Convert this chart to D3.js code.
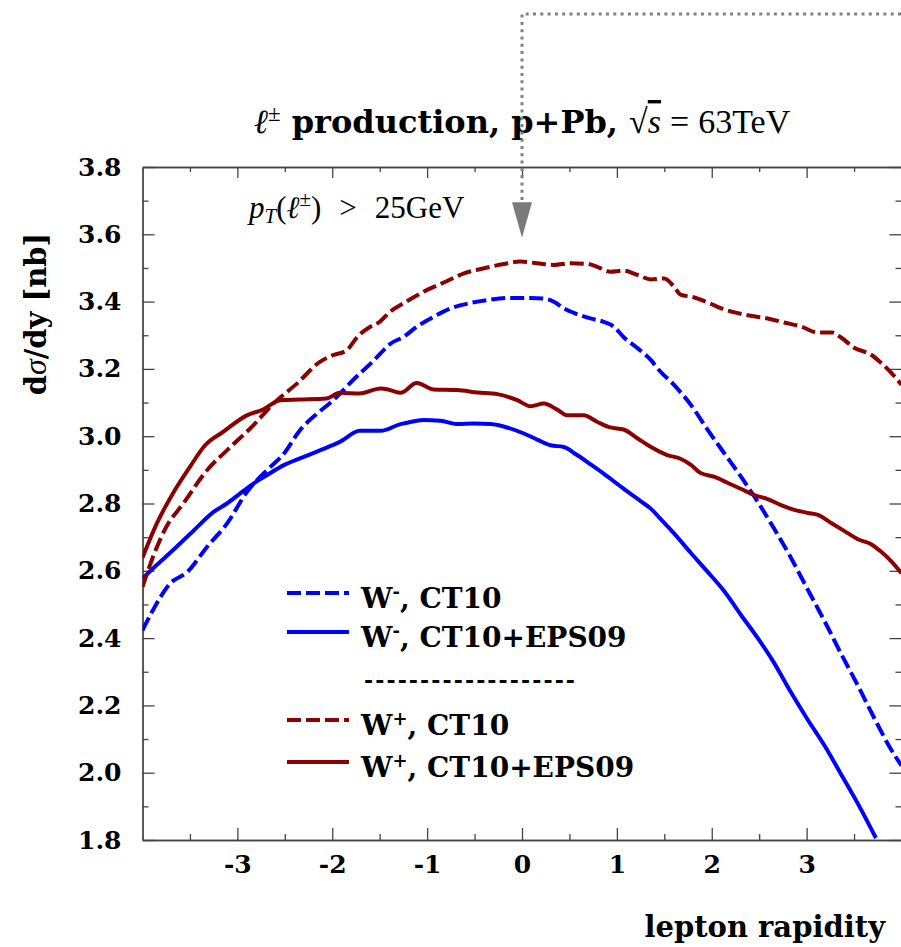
<!DOCTYPE html>
<html>
<head>
<meta charset="utf-8">
<script src="https://cdn.jsdelivr.net/npm/d3@7"></script>
<style>
body { margin: 0; background: #fff; }
svg { display: block; }
</style>
</head>
<body>
<svg id="chart" width="901" height="947"></svg>
<script>
// W- , CT10 (dashed blue)
const rapWmCT10 = [-4.0,-3.89,-3.71,-3.53,-3.32,-3.11,-2.90,-2.69,-2.51,-2.34,-2.16,-1.99,-1.78,-1.56,-1.45,-1.39,-1.25,-1.11,-0.93,-0.75,-0.54,-0.33,-0.12,0.09,0.23,0.34,0.44,0.58,0.72,0.86,0.97,1.07,1.22,1.36,1.43,1.60,1.78,1.95,2.13,2.31,2.48,2.66,2.83,3.01,3.19,3.36,3.54,3.71,3.89,4.0];
const sigWmCT10 = [2.423,2.483,2.562,2.596,2.671,2.740,2.834,2.899,2.948,3.018,3.067,3.107,3.167,3.226,3.258,3.274,3.295,3.325,3.355,3.380,3.396,3.406,3.411,3.411,3.409,3.399,3.380,3.363,3.350,3.340,3.325,3.295,3.261,3.226,3.201,3.153,3.093,3.022,2.950,2.879,2.807,2.724,2.641,2.545,2.450,2.355,2.259,2.164,2.069,2.021];
// W- , CT10+EPS09 (solid blue)
const rapWmEPS = [-4.0,-3.89,-3.68,-3.46,-3.25,-3.11,-2.97,-2.83,-2.69,-2.51,-2.34,-2.13,-1.92,-1.71,-1.49,-1.28,-1.21,-1.04,-0.86,-0.68,-0.51,-0.33,-0.16,0.02,0.16,0.30,0.44,0.58,0.72,0.86,1.0,1.07,1.25,1.36,1.46,1.60,1.78,1.95,2.13,2.31,2.48,2.66,2.83,3.01,3.19,3.36,3.54,3.73];
const sigWmEPS = [2.577,2.607,2.661,2.720,2.775,2.800,2.830,2.859,2.884,2.914,2.934,2.958,2.983,3.016,3.016,3.036,3.040,3.048,3.046,3.036,3.038,3.036,3.026,3.008,2.990,2.973,2.968,2.944,2.917,2.889,2.859,2.844,2.807,2.784,2.754,2.712,2.653,2.599,2.540,2.468,2.402,2.325,2.241,2.158,2.080,1.997,1.908,1.806];
// W+ , CT10 (dashed dark red)
const rapWpCT10 = [-4.0,-3.89,-3.75,-3.57,-3.32,-3.11,-2.83,-2.62,-2.37,-2.13,-2.0,-1.85,-1.72,-1.6,-1.5,-1.39,-1.25,-1.04,-0.83,-0.61,-0.40,-0.19,-0.02,0.16,0.34,0.51,0.69,0.83,0.93,1.07,1.22,1.36,1.50,1.60,1.67,1.81,1.96,2.10,2.24,2.41,2.59,2.76,2.94,3.12,3.27,3.36,3.50,3.68,3.78,3.89,4.0];
const sigWpCT10 = [2.552,2.641,2.730,2.800,2.899,2.958,3.033,3.097,3.157,3.221,3.240,3.255,3.300,3.325,3.340,3.370,3.395,3.429,3.456,3.484,3.499,3.512,3.519,3.514,3.509,3.514,3.512,3.499,3.489,3.492,3.479,3.466,3.469,3.445,3.421,3.413,3.397,3.380,3.368,3.358,3.350,3.338,3.326,3.308,3.308,3.294,3.263,3.242,3.219,3.189,3.153];
// W+ , CT10+EPS09 (solid dark red)
const rapWpEPS = [-4.0,-3.85,-3.68,-3.50,-3.34,-3.15,-2.90,-2.73,-2.55,-2.34,-2.06,-1.92,-1.71,-1.49,-1.39,-1.28,-1.11,-0.93,-0.68,-0.47,-0.26,-0.05,0.09,0.23,0.37,0.48,0.65,0.79,0.93,1.07,1.22,1.36,1.53,1.67,1.78,1.88,2.03,2.17,2.31,2.45,2.59,2.73,2.87,3.01,3.12,3.26,3.40,3.54,3.68,3.78,3.89,4.0];
const sigWpEPS = [2.639,2.740,2.830,2.909,2.973,3.013,3.062,3.079,3.107,3.109,3.112,3.129,3.127,3.142,3.137,3.129,3.158,3.139,3.137,3.130,3.125,3.107,3.089,3.097,3.079,3.062,3.062,3.043,3.026,3.020,2.993,2.968,2.944,2.933,2.915,2.891,2.879,2.861,2.843,2.825,2.813,2.795,2.781,2.772,2.766,2.742,2.718,2.694,2.679,2.658,2.629,2.593];

const xMajor = [-3, -2, -1, 0, 1, 2, 3];
const xMinor = [-3.5, -2.5, -1.5, -0.5, 0.5, 1.5, 2.5, 3.5];
const yMajor = [1.8, 2.0, 2.2, 2.4, 2.6, 2.8, 3.0, 3.2, 3.4, 3.6, 3.8];
const yMinor = [1.9, 2.1, 2.3, 2.5, 2.7, 2.9, 3.1, 3.3, 3.5, 3.7];

const BLUE = "#0000ff", RED = "#8b0000";
const series = [
	{ key: "wm-ct10", boson: "W", charge: "-", label: ", CT10", rap: rapWmCT10, sig: sigWmCT10, color: BLUE, dash: "14,5" },
	{ key: "wm-eps", boson: "W", charge: "-", label: ", CT10+EPS09", rap: rapWmEPS, sig: sigWmEPS, color: BLUE, dash: null },
	{ key: "wp-ct10", boson: "W", charge: "+", label: ", CT10", rap: rapWpCT10, sig: sigWpCT10, color: RED, dash: "14,5" },
	{ key: "wp-eps", boson: "W", charge: "+", label: ", CT10+EPS09", rap: rapWpEPS, sig: sigWpEPS, color: RED, dash: null }
];

const BOLD = "'DejaVu Serif', serif";
const ROMAN = "'Liberation Serif', 'Times New Roman', serif";

const svg = d3.select("#chart");
const plotL = 142.5, plotR = 901.5, plotT = 167, plotB = 840;

const x = d3.scaleLinear().domain([-4, 4]).range([plotL, plotR]);
const y = d3.scaleLinear().domain([1.8, 3.8]).range([plotB, plotT]);

svg.append("defs").append("clipPath").attr("id", "plotclip")
	.append("rect").attr("x", plotL).attr("y", plotT)
	.attr("width", plotR - plotL).attr("height", plotB - plotT);

// axes: ticks point into the frame
function styleAxis(g) {
	g.select(".domain").attr("stroke", "#444").attr("stroke-width", 1.3);
	g.selectAll(".tick line").attr("stroke", "#444").attr("stroke-width", 1.3);
	g.selectAll(".tick text")
		.attr("font-family", BOLD).attr("font-weight", "bold")
		.attr("font-size", 25).attr("fill", "#000");
}

svg.append("g").attr("transform", `translate(0,${plotB})`)
	.call(d3.axisBottom(x).tickValues(xMajor).tickSize(-12).tickSizeOuter(0).tickPadding(15).tickFormat(d => String(d)))
	.call(styleAxis);
svg.append("g").attr("transform", `translate(0,${plotB})`)
	.call(d3.axisBottom(x).tickValues(xMinor).tickSize(-6).tickSizeOuter(0).tickFormat(""))
	.call(styleAxis);
svg.append("g").attr("transform", `translate(0,${plotT})`)
	.call(d3.axisTop(x).tickValues(xMajor).tickSize(-11).tickSizeOuter(0).tickFormat(""))
	.call(styleAxis);
svg.append("g").attr("transform", `translate(0,${plotT})`)
	.call(d3.axisTop(x).tickValues(xMinor).tickSize(-5).tickSizeOuter(0).tickFormat(""))
	.call(styleAxis);

svg.append("g").attr("transform", `translate(${plotL},0)`)
	.call(d3.axisLeft(y).tickValues(yMajor).tickSize(-12).tickSizeOuter(0).tickPadding(21).tickFormat(d3.format(".1f")))
	.call(styleAxis);
svg.append("g").attr("transform", `translate(${plotL},0)`)
	.call(d3.axisLeft(y).tickValues(yMinor).tickSize(-6).tickSizeOuter(0).tickFormat(""))
	.call(styleAxis);
svg.append("g").attr("transform", `translate(${plotR},0)`)
	.call(d3.axisRight(y).tickValues(yMajor).tickSize(-12).tickSizeOuter(0).tickFormat(""))
	.call(styleAxis);
svg.append("g").attr("transform", `translate(${plotR},0)`)
	.call(d3.axisRight(y).tickValues(yMinor).tickSize(-6).tickSizeOuter(0).tickFormat(""))
	.call(styleAxis);

// curves
const line = d3.line()
	.x(d => x(d[0]))
	.y(d => y(d[1]))
	.curve(d3.curveMonotoneX);

svg.append("g").attr("clip-path", "url(#plotclip)")
	.selectAll("path")
	.data(series)
	.enter()
	.append("path")
	.attr("class", d => d.key)
	.attr("d", d => line(d3.zip(d.rap, d.sig)))
	.attr("fill", "none")
	.attr("stroke", d => d.color)
	.attr("stroke-width", 4)
	.attr("stroke-dasharray", d => d.dash);

// legend
const legendRows = [598, 637, 725, 767];
const legend = svg.append("g");
series.forEach((s, i) => {
	const ly = legendRows[i];
	legend.append("line")
		.attr("x1", 287).attr("x2", 349)
		.attr("y1", ly - 5).attr("y2", ly - 5)
		.attr("stroke", s.color).attr("stroke-width", 4)
		.attr("stroke-dasharray", s.dash);
	const t = legend.append("text")
		.attr("x", 361).attr("y", ly + 10)
		.attr("font-family", BOLD).attr("font-weight", "bold")
		.attr("font-size", 28);
	t.append("tspan").text(s.boson);
	t.append("tspan").attr("baseline-shift", "super").attr("font-size", 18).text(s.charge);
	t.append("tspan").text(s.label);
});
legend.append("text")
	.attr("x", 364).attr("y", 688)
	.attr("font-family", BOLD).attr("font-weight", "bold").attr("font-size", 22)
	.attr("textLength", 211).attr("lengthAdjust", "spacing")
	.text("-------------------");

// title
const title = svg.append("text")
	.attr("x", x(0)).attr("y", 133)
	.attr("text-anchor", "middle")
	.attr("font-family", ROMAN).attr("font-size", 34);
title.append("tspan").attr("font-style", "italic").text("\u2113");
title.append("tspan").attr("baseline-shift", "super").attr("font-size", 23).text("\u00b1");
title.append("tspan").attr("font-family", BOLD).attr("font-weight", "bold").attr("font-size", 32).text(" production, p+Pb, ");
title.append("tspan").text("\u221a");
title.append("tspan").attr("font-style", "italic").attr("text-decoration", "overline").text("s");
title.append("tspan").attr("dx", 9).text("=");
title.append("tspan").attr("dx", 9).text("63TeV");

// annotation
const note = svg.append("text")
	.attr("x", 249).attr("y", 218)
	.attr("font-family", ROMAN).attr("font-size", 31);
note.append("tspan").attr("font-style", "italic").text("p");
note.append("tspan").attr("font-style", "italic").attr("font-size", 21).attr("baseline-shift", "-25%").text("T");
note.append("tspan").text("(");
note.append("tspan").attr("font-style", "italic").text("\u2113");
note.append("tspan").attr("baseline-shift", "super").attr("font-size", 21).text("\u00b1");
note.append("tspan").text(")");
note.append("tspan").attr("dx", 18).text(">");
note.append("tspan").attr("dx", 18).text("25GeV");

// arrow pointing at y = 0
const ax = x(0);
svg.append("path")
	.attr("d", `M901,14 L${ax},14 L${ax},${y(3.65)}`)
	.attr("fill", "none").attr("stroke", "#808080").attr("stroke-width", 3)
	.attr("stroke-dasharray", "3,4.3");
svg.append("path")
	.attr("d", `M${ax - 10},${y(3.695)} L${ax + 10},${y(3.695)} L${ax},${y(3.59)} Z`)
	.attr("fill", "#7a7a7a");

// axis titles
svg.append("text")
	.attr("transform", "translate(46,314) rotate(-90)")
	.attr("text-anchor", "middle")
	.attr("font-family", BOLD).attr("font-weight", "bold").attr("font-size", 29)
	.call(t => {
		t.append("tspan").text("d");
		t.append("tspan").attr("font-family", ROMAN).attr("font-weight", "normal").attr("font-style", "italic").attr("font-size", 32).text("\u03c3");
		t.append("tspan").text("/dy [nb]");
	});
svg.append("text")
	.attr("x", 885).attr("y", 937)
	.attr("text-anchor", "end")
	.attr("font-family", BOLD).attr("font-weight", "bold").attr("font-size", 29)
	.text("lepton rapidity");
</script>
</body>
</html>
